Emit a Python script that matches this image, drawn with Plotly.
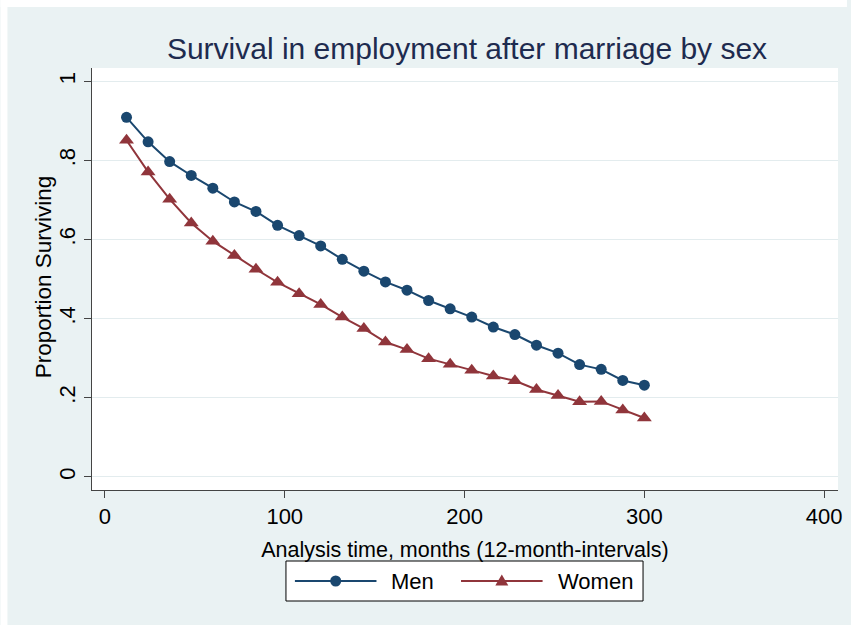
import plotly.graph_objects as go

# Kaplan-Meier style survival proportions at 12-month intervals
months = [12, 24, 36, 48, 60, 72, 84, 96, 108, 120, 132, 144, 156,
          168, 180, 192, 204, 216, 228, 240, 252, 264, 276, 288, 300]
men = [0.909, 0.847, 0.797, 0.762, 0.730, 0.695, 0.671, 0.636, 0.610,
       0.584, 0.550, 0.520, 0.493, 0.472, 0.446, 0.425, 0.404, 0.379,
       0.360, 0.333, 0.313, 0.284, 0.272, 0.244, 0.232]
women = [0.851, 0.771, 0.702, 0.642, 0.596, 0.560, 0.525, 0.492, 0.463,
         0.436, 0.404, 0.375, 0.341, 0.322, 0.299, 0.285, 0.270, 0.255,
         0.243, 0.221, 0.206, 0.190, 0.191, 0.169, 0.149]

x_ticks = [0, 100, 200, 300, 400]
y_ticks = [0, 0.2, 0.4, 0.6, 0.8, 1]
y_tick_labels = ["0", ".2", ".4", ".6", ".8", "1"]

series_names = ["Men", "Women"]
navy = "#1A476F"
maroon = "#90353B"
bg = "#EAF2F3"
title_col = "#1E2B4F"
font = "Liberation Sans, Arial, sans-serif"

W, H = 851, 625
ML, MR, MT, MB = 92, 9, 68, 135
PW, PH = W - ML - MR, H - MT - MB


def px(x):
    return (x - ML) / PW


def py(y):
    return (H - MB - y) / PH


fig = go.Figure()
fig.add_trace(go.Scatter(
    x=months, y=men, name=series_names[0], mode="lines+markers",
    line=dict(color=navy, width=2),
    marker=dict(symbol="circle", size=11, color=navy),
    showlegend=False))
fig.add_trace(go.Scatter(
    x=months, y=women, name=series_names[1], mode="lines+markers",
    line=dict(color=maroon, width=2),
    marker=dict(symbol="triangle-up", size=13, color=maroon),
    showlegend=False))

shapes = []
# white edge strips along the top and left of the graph region
shapes.append(dict(type="rect", xref="paper", yref="paper", layer="below",
                   x0=px(0), x1=px(W), y0=py(7), y1=py(0),
                   line=dict(width=0), fillcolor="white"))
shapes.append(dict(type="rect", xref="paper", yref="paper", layer="below",
                   x0=px(0), x1=px(7), y0=py(H), y1=py(0),
                   line=dict(width=0), fillcolor="white"))

# legend box below the axis title
shapes.append(dict(type="rect", xref="paper", yref="paper",
                   x0=px(287), x1=px(646), y0=py(601), y1=py(561),
                   line=dict(color="#000000", width=1), fillcolor="white"))
leg_y = 581
for (x0, x1, col) in [(296, 378, navy), (463, 545, maroon)]:
    shapes.append(dict(type="line", xref="paper", yref="paper",
                       x0=px(x0), x1=px(x1), y0=py(leg_y), y1=py(leg_y),
                       line=dict(color=col, width=2)))
shapes.append(dict(type="circle", xref="paper", yref="paper",
                   xsizemode="pixel", ysizemode="pixel",
                   xanchor=px(337), yanchor=py(leg_y),
                   x0=-5.5, x1=5.5, y0=-5.5, y1=5.5,
                   line=dict(width=0), fillcolor=navy))
shapes.append(dict(type="path", xref="paper", yref="paper",
                   xsizemode="pixel", ysizemode="pixel",
                   xanchor=px(504), yanchor=py(leg_y),
                   path="M -6.5 -4.5 L 6.5 -4.5 L 0 6.5 Z",
                   line=dict(width=0), fillcolor=maroon))

annotations = [
    dict(text=series_names[0], xref="paper", yref="paper", x=px(391), y=py(leg_y),
         xanchor="left", yanchor="middle", showarrow=False,
         font=dict(family=font, size=22, color="#000000")),
    dict(text=series_names[1], xref="paper", yref="paper", x=px(558), y=py(leg_y),
         xanchor="left", yanchor="middle", showarrow=False,
         font=dict(family=font, size=22, color="#000000")),
    # vertical axis title
    dict(text="Proportion Surviving", xref="paper", yref="paper",
         x=px(43), y=py(277), xanchor="center", yanchor="middle",
         textangle=-90, showarrow=False,
         font=dict(family=font, size=22.5, color="#000000")),
]

fig.update_layout(
    width=W, height=H,
    margin=dict(l=ML, r=MR, t=MT, b=MB, pad=0),
    paper_bgcolor=bg, plot_bgcolor="white",
    font=dict(family=font, size=22, color="#000000"),
    title=dict(text="Survival in employment after marriage by sex",
               x=(ML + PW / 2) / W, xanchor="center",
               y=1 - 48 / H, yanchor="middle",
               font=dict(family=font, size=30, color=title_col)),
    shapes=shapes, annotations=annotations,
    showlegend=False,
)

fig.update_xaxes(
    range=[-7.2, 407.7], tickvals=x_ticks, ticktext=[str(v) for v in x_ticks],
    showgrid=False, zeroline=False, showline=True, linecolor="#444444", linewidth=1,
    ticks="outside", ticklen=7, tickcolor="#444444", tickwidth=1,
    tickfont=dict(family=font, size=22, color="#000000"),
    title=dict(text="Analysis time, months (12-month-intervals)", standoff=13,
               font=dict(family=font, size=21.5, color="#000000")),
)
fig.update_yaxes(
    range=[-0.0329, 1.0336], tickvals=y_ticks, ticktext=y_tick_labels,
    tickangle=-90,
    showgrid=True, gridcolor="#E3ECEE", gridwidth=1,
    zeroline=False, showline=True, linecolor="#444444", linewidth=1,
    ticks="outside", ticklen=7, tickcolor="#444444", tickwidth=1,
    tickfont=dict(family=font, size=22, color="#000000"),
)

fig.write_html("out.html")
